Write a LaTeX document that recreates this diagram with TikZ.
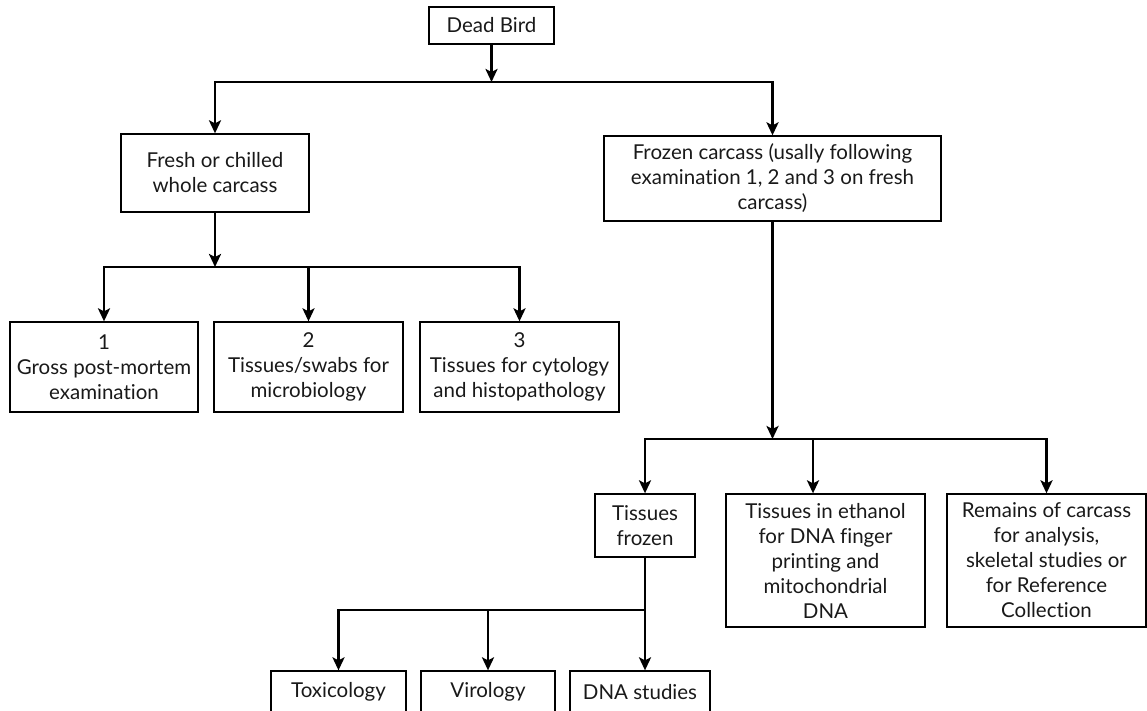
\documentclass[tikz,border=0pt]{standalone}
\usepackage{fontspec}
\setmainfont{Lato}[Ligatures=NoCommon]
\usetikzlibrary{arrows.meta}
\begin{document}
\begin{tikzpicture}[x=1pt,y=-1pt,
  box/.style={draw=black, line width=1.3pt, inner sep=0pt, align=center,
    font=\fontsize{20.5}{25}\selectfont, text=black!90},
  conn/.style={line width=2.8pt, line join=miter},
  tip/.style={-{Stealth[length=13pt,width=12pt,inset=3pt]}},
  bothtip/.style={{Stealth[length=13pt,width=12pt,inset=3pt]}-{Stealth[length=13pt,width=12pt,inset=3pt]}},
  starttip/.style={{Stealth[length=13pt,width=12pt,inset=3pt]}-}
]
\useasboundingbox (0,0) rectangle (1147,711);
\clip (0,0) rectangle (1147,711);

% nodes
\node[box, minimum width=125pt, minimum height=37pt] (dead) at (491.5,25.5) {Dead Bird};
\node[box, minimum width=188pt, minimum height=78pt] (fresh) at (215,173) {Fresh or chilled\\whole carcass};
\node[box, minimum width=337pt, minimum height=85pt] (frozen) at (772.5,178.5) {Frozen carcass (usally following\\examination 1, 2 and 3 on fresh\\carcass)};
\node[box, minimum width=188pt, minimum height=90pt] (g1) at (104,367) {1\\Gross post-mortem\\examination};
\node[box, minimum width=189pt, minimum height=90pt] (g2) at (308.5,367) {2\\Tissues/swabs for\\microbiology};
\node[box, minimum width=199pt, minimum height=90pt] (g3) at (519.5,367) {3\\Tissues for cytology\\and histopathology};
\node[box, minimum width=100pt, minimum height=63pt] (tf) at (645,525.5) {Tissues\\frozen};
\node[box, minimum width=199pt, minimum height=133pt] (eth) at (825.5,560.5) {Tissues in ethanol\\for DNA finger\\printing and\\mitochondrial\\DNA};
\node[box, minimum width=199pt, minimum height=133pt] (rem) at (1046.5,560.5) {Remains of carcass\\for analysis,\\skeletal studies or\\for Reference\\Collection};
\node[box, minimum width=135pt, minimum height=42pt] (tox) at (338.5,692) {Toxicology};
\node[box, minimum width=134pt, minimum height=42pt] (vir) at (488,692) {Virology};
\node[box, minimum width=140pt, minimum height=42pt] (dna) at (640,692) {DNA studies};

% junction coordinates
\coordinate (j1) at (491.5,82);
\coordinate (j2) at (215,267);
\coordinate (j3) at (772.5,439);
\coordinate (j3m) at (813,439);
\coordinate (j4) at (645,610);

% level 1
\draw[conn,tip] (dead.south) -- (j1);
\draw[conn,bothtip] (fresh.north) -- (fresh.north |- j1) -- (frozen.north |- j1) -- (frozen.north);

% level 2 (fresh)
\draw[conn,tip] (fresh.south) -- (j2);
\draw[conn,bothtip] (g1.north) -- (g1.north |- j2) -- (g3.north |- j2) -- (g3.north);
\draw[conn,tip] (g2.north |- j2) -- (g2.north);

% level 2 (frozen)
\draw[conn,tip] (frozen.south) -- (j3);
\draw[conn,bothtip] (tf.north) -- (tf.north |- j3) -- (rem.north |- j3) -- (rem.north);
\draw[conn,tip] (j3m) -- (j3m |- eth.north);

% level 3
\draw[conn,tip] (tf.south) -- (tf.south |- dna.north);
\draw[conn,starttip] (tox.north) -- (tox.north |- j4) -- (j4);
\draw[conn,tip] (vir.north |- j4) -- (vir.north);
\end{tikzpicture}
\end{document}
